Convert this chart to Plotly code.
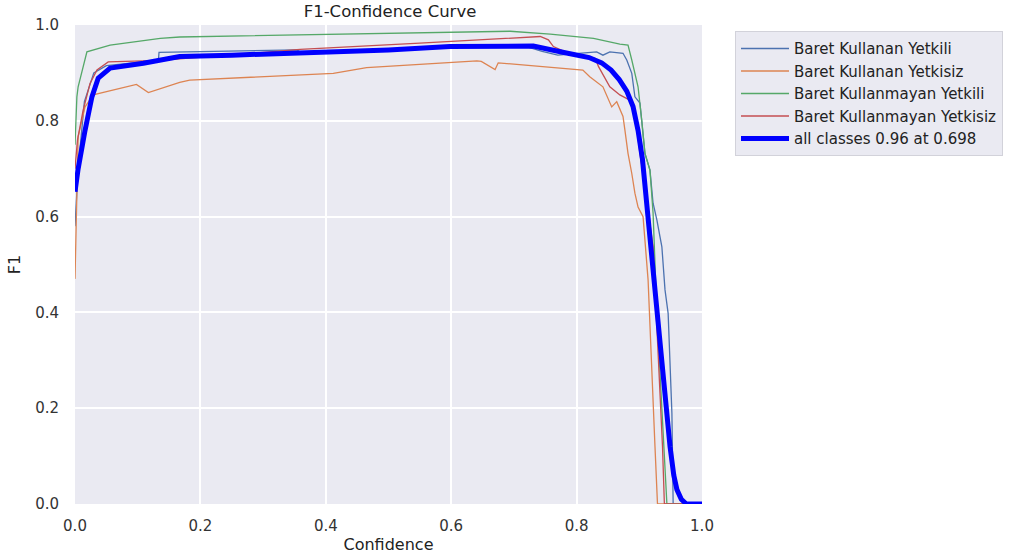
import plotly.graph_objects as go

# ---- data ----
names = ["Baret Kullanan Yetkili", "Baret Kullanan Yetkisiz",
         "Baret Kullanmayan Yetkili", "Baret Kullanmayan Yetkisiz"]
colors = ["#4C72B0", "#DD8452", "#55A868", "#C44E52"]

x_yetkili = [0, 0.005, 0.015, 0.03, 0.05, 0.1, 0.133, 0.134, 0.354, 0.36, 0.5, 0.65, 0.72, 0.745,
             0.77, 0.8, 0.832, 0.842, 0.853, 0.874, 0.88, 0.888, 0.893, 0.901, 0.904, 0.909, 0.917,
             0.922, 0.928, 0.936, 0.941, 0.946, 0.952, 0.954, 1.0]
y_yetkili = [0.58, 0.70, 0.84, 0.90, 0.915, 0.922, 0.925, 0.943, 0.948, 0.943, 0.95, 0.955, 0.955, 0.945,
             0.937, 0.94, 0.944, 0.937, 0.944, 0.941, 0.927, 0.899, 0.85, 0.837, 0.80, 0.732, 0.697,
             0.628, 0.593, 0.537, 0.447, 0.398, 0.19, 0.0, 0.0]

x_yetkisiz = [0, 0.005, 0.016, 0.029, 0.098, 0.117, 0.167, 0.183, 0.412, 0.465, 0.641, 0.648, 0.67,
              0.675, 0.81, 0.821, 0.842, 0.856, 0.864, 0.874, 0.877, 0.882, 0.888, 0.893, 0.898, 0.906,
              0.914, 0.92, 0.925, 0.929, 1.0]
y_yetkisiz = [0.47, 0.767, 0.829, 0.854, 0.876, 0.859, 0.88, 0.885, 0.899, 0.911, 0.925, 0.924, 0.907,
              0.921, 0.906, 0.892, 0.871, 0.829, 0.84, 0.809, 0.781, 0.732, 0.69, 0.649, 0.62, 0.6,
              0.468, 0.259, 0.12, 0.0, 0.0]

x_m_yetkili = [0, 0.003, 0.005, 0.011, 0.019, 0.056, 0.136, 0.167, 0.359, 0.5, 0.694, 0.758, 0.827,
               0.869, 0.882, 0.888, 0.898, 0.904, 0.909, 0.917, 0.922, 0.928, 0.936, 0.941, 0.944, 1.0]
y_m_yetkili = [0.75, 0.85, 0.871, 0.90, 0.944, 0.958, 0.972, 0.975, 0.979, 0.982, 0.987, 0.981, 0.972,
               0.96, 0.958, 0.927, 0.871, 0.80, 0.732, 0.697, 0.607, 0.398, 0.19, 0.086, 0.0, 0.0]

x_m_yetkisiz = [0, 0.004, 0.013, 0.024, 0.035, 0.053, 0.136, 0.359, 0.55, 0.742, 0.755, 0.763, 0.78,
                0.81, 0.83, 0.835, 0.853, 0.869, 0.885, 0.893, 0.901, 0.909, 0.922, 0.93, 0.937, 0.940, 1.0]
y_m_yetkisiz = [0.70, 0.76, 0.822, 0.878, 0.906, 0.923, 0.926, 0.949, 0.962, 0.976, 0.969, 0.955, 0.945,
                0.937, 0.93, 0.913, 0.871, 0.854, 0.843, 0.816, 0.732, 0.662, 0.537, 0.33, 0.12, 0.0, 0.0]

x_all = [0, 0.005, 0.016, 0.027, 0.037, 0.056, 0.109, 0.167, 0.25, 0.359, 0.5, 0.598, 0.698, 0.731,
         0.774, 0.80, 0.82, 0.84, 0.855, 0.868, 0.88, 0.89, 0.898, 0.905, 0.911, 0.917, 0.928, 0.938,
         0.949, 0.955, 0.96, 0.967, 0.975, 1.0]
y_all = [0.652, 0.70, 0.78, 0.85, 0.889, 0.91, 0.92, 0.934, 0.937, 0.941, 0.948, 0.955, 0.957, 0.956,
         0.944, 0.938, 0.932, 0.921, 0.906, 0.886, 0.862, 0.83, 0.78, 0.72, 0.64, 0.55, 0.398, 0.259,
         0.12, 0.06, 0.03, 0.01, 0.0, 0.0]
all_label = "all classes 0.96 at 0.698"

tick_vals = [0.0, 0.2, 0.4, 0.6, 0.8, 1.0]
tick_text = ["0.0", "0.2", "0.4", "0.6", "0.8", "1.0"]

series = [(x_yetkili, y_yetkili), (x_yetkisiz, y_yetkisiz),
          (x_m_yetkili, y_m_yetkili), (x_m_yetkisiz, y_m_yetkisiz)]

fig = go.Figure()
for (xs, ys), nm, c in zip(series, names, colors):
    fig.add_trace(go.Scatter(x=xs, y=ys, mode="lines", name=nm,
                             line=dict(color=c, width=1.3)))
fig.add_trace(go.Scatter(x=x_all, y=y_all, mode="lines", name=all_label,
                         line=dict(color="#0000FF", width=5)))

font_family = "DejaVu Sans, Liberation Sans, Arial, sans-serif"
fig.update_layout(
    width=1017, height=557,
    margin=dict(l=75, r=315, t=25, b=53, autoexpand=False),
    paper_bgcolor="white",
    plot_bgcolor="#EAEAF2",
    font=dict(family=font_family, size=15, color="#333333"),
    title=dict(text="F1-Confidence Curve", x=390 / 1017, xanchor="center",
               y=1 - 11 / 557, yanchor="middle", font=dict(size=16.5, color="#222222")),
    showlegend=True,
    legend=dict(x=(735 - 75) / 627, y=0.987, xanchor="left", yanchor="top",
                bgcolor="#EAEAF2", bordercolor="#D2D2DA", borderwidth=1,
                font=dict(size=15, color="#222222"), tracegroupgap=0,
                itemwidth=48),
)
fig.update_xaxes(range=[0, 1], tickvals=tick_vals, ticktext=tick_text, automargin=False,
                 showgrid=True, gridcolor="white", gridwidth=1.5, zeroline=False,
                 showline=False, ticks="outside", ticklen=8, tickcolor="rgba(0,0,0,0)",
                 tickfont=dict(size=15, color="#333333"),
                 title=dict(text="Confidence", font=dict(size=16, color="#222222"), standoff=4))
fig.update_yaxes(range=[0, 1], tickvals=tick_vals, ticktext=tick_text, automargin=False,
                 showgrid=True, gridcolor="white", gridwidth=1.5, zeroline=False,
                 showline=False, ticks="outside", ticklen=12, tickcolor="rgba(0,0,0,0)",
                 tickfont=dict(size=15, color="#333333"),
                 title=dict(text="F1", font=dict(size=16, color="#222222"), standoff=10))

fig.write_html("out.html", config={"displayModeBar": False},
               post_script="document.body.style.margin='0';")
